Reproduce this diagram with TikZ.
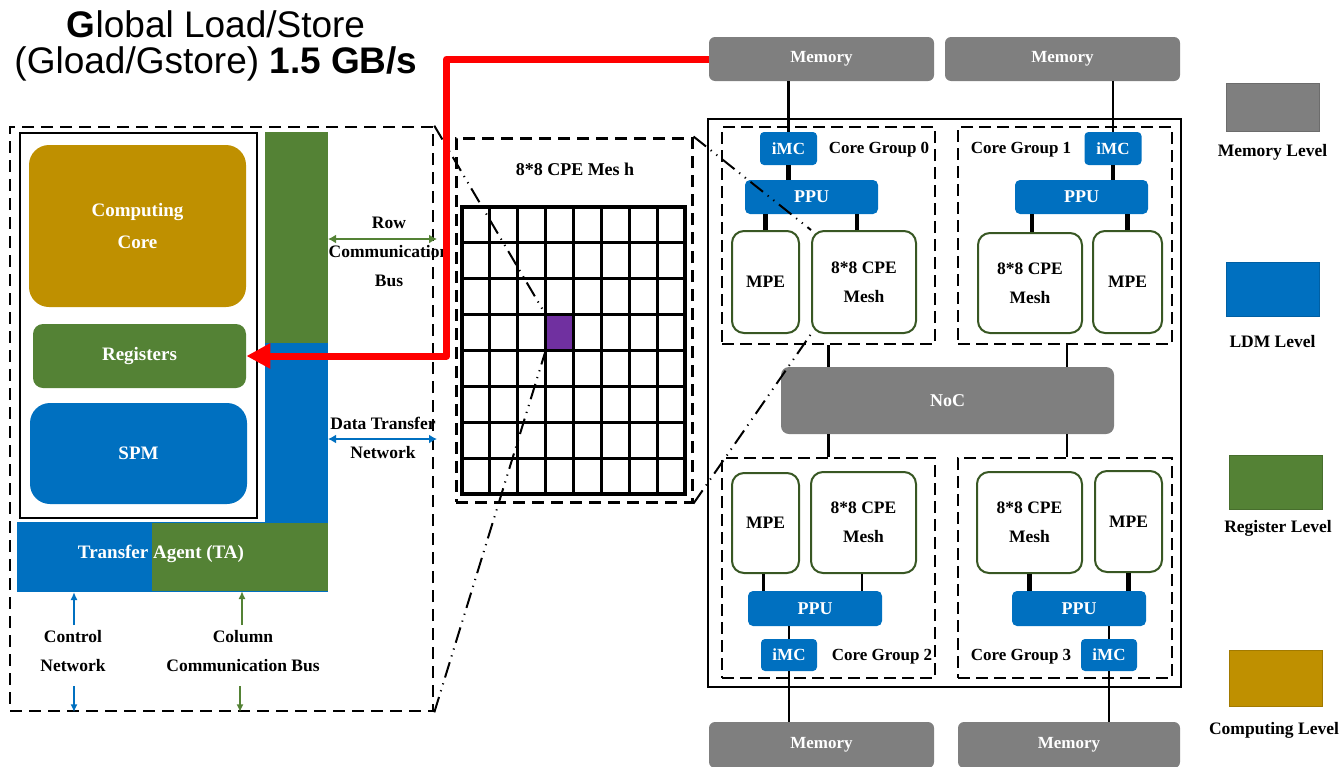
\documentclass[tikz,border=0pt]{standalone}
\usepackage{fontspec}
\setmainfont{Liberation Serif}
\newfontfamily\titlefont{Liberation Sans}
\usetikzlibrary{arrows.meta}

\definecolor{memgray}{HTML}{7F7F7F}
\definecolor{ldmblue}{HTML}{0070C0}
\definecolor{reggreen}{HTML}{548235}
\definecolor{compgold}{HTML}{BF9000}
\definecolor{cpepurple}{HTML}{7030A0}
\definecolor{peborder}{HTML}{385723}
\definecolor{gloadred}{HTML}{FF0000}

\tikzset{
  lbl/.style={font=\bfseries\fontsize{8.75}{14.5}\selectfont, inner sep=0pt, align=center},
  wlbl/.style={font=\bfseries\fontsize{9.5}{16}\selectfont, text=white, inner sep=0pt, align=center},
  solidfill/.style={inner sep=0pt, outer sep=0pt},
  panel/.style={draw, line width=1.3pt, dash pattern=on 6pt off 3.5pt, inner sep=0pt},
  cgbox/.style={draw, line width=1.2pt, dash pattern=on 6pt off 3pt, inner sep=0pt},
  membox/.style={fill=memgray, rounded corners=3pt, text=white, inner sep=0pt,
    font=\bfseries\fontsize{8.5}{10}\selectfont},
  imcbox/.style={fill=ldmblue, rounded corners=2pt, text=white, inner sep=0pt,
    minimum width=28.5pt, minimum height=16.5pt, font=\bfseries\fontsize{8.5}{10}\selectfont},
  ppubox/.style={fill=ldmblue, rounded corners=2.5pt, text=white, inner sep=0pt,
    minimum width=66.5pt, minimum height=17pt, font=\bfseries\fontsize{9}{10}\selectfont},
  pebox/.style={draw=peborder, line width=1pt, fill=white, rounded corners=6pt,
    inner sep=0pt, align=center, font=\bfseries\fontsize{8.75}{14.5}\selectfont},
  wire/.style={line width=1.4pt},
  thickwire/.style={line width=2.2pt},
  gridline/.style={line width=1.6pt, line cap=rect},
  zoomline/.style={line width=1pt, dash pattern=on 8pt off 3pt on 0.6pt off 3pt on 0.6pt off 3pt},
  busarrow/.style={line width=0.85pt, {Latex[length=4pt,width=4.5pt]}-{Latex[length=4pt,width=4.5pt]}},
  uparrow/.style={line width=0.8pt, -{Latex[length=4pt,width=3.5pt]}},
  keybox/.style={inner sep=0pt, minimum width=46.5pt, line width=0.4pt},
}

\begin{document}
\begin{tikzpicture}[x=0.5pt, y=-0.5pt]
\useasboundingbox (0,0) rectangle (1339,766);

% ---------- title ----------
\node[anchor=base, inner sep=0pt, font=\titlefont\fontsize{18.5}{22}\selectfont] (title1) at (216,37)
  {\textbf{G}lobal Load/Store};
\node[anchor=base, inner sep=0pt, font=\titlefont\fontsize{18.5}{22}\selectfont] (title2) at (216,73)
  {(Gload/Gstore) \textbf{1.5 GB/s}};

% ---------- single CPE ----------
\node[panel, minimum width=211.5pt, minimum height=292pt] (lp) at (221.5,419) {};
\node[draw, line width=1.25pt, inner sep=0pt, minimum width=118.5pt, minimum height=192.5pt] (cpeinner) at (138.5,325.5) {};
\node[fill=compgold, rounded corners=10pt, minimum width=108.5pt, minimum height=81pt, wlbl] (core) at (137.5,226) {Computing\\Core};
\node[fill=reggreen, rounded corners=5pt, minimum width=106.5pt, minimum height=32pt, wlbl] (regs) at (139.5,356) {Registers};
\node[fill=ldmblue, rounded corners=10pt, minimum width=108.5pt, minimum height=50.5pt, wlbl] (spm) at (138.5,453.5) {SPM};

\node[fill=reggreen, solidfill, minimum width=31.5pt, minimum height=105.5pt] (rowbar) at (296.5,237.5) {};
\node[fill=ldmblue, solidfill, minimum width=31.5pt, minimum height=90pt] (ldmbar) at (296.5,433) {};
\node[fill=ldmblue, solidfill, minimum width=155.5pt, minimum height=35pt] (tabase) at (172.5,557) {};
\node[fill=reggreen, solidfill, minimum width=88pt, minimum height=34pt] (tacol) at (240,557) {};
\node[wlbl] (ta) at (161,554) {Transfer Agent (TA)};

% row bus and data transfer network
\coordinate (rowend) at (437,239);
\draw[busarrow, reggreen] (rowbar.east |- rowend) -- (rowend);
\node[lbl] (rowlbl) at (389,252) {Row\\Communication\\Bus};
\coordinate (dtend) at (437,439);
\draw[busarrow, ldmblue] (ldmbar.east |- dtend) -- (dtend);
\node[lbl] (dtlbl) at (383,437.5) {Data Transfer\\Network};

% control network and column bus
\coordinate (ctlin) at (74,625);
\coordinate (ctlout) at (74,686);
\draw[uparrow, ldmblue] (ctlin) -- (ctlin |- tabase.south);
\draw[uparrow, ldmblue] (ctlout) -- (ctlout |- lp.south);
\node[lbl] (ctllbl) at (73,651) {Control\\Network};
\coordinate (colin) at (242,625);
\coordinate (colout) at (240,686);
\draw[uparrow, reggreen] (colin) -- (colin |- tacol.south);
\draw[uparrow, reggreen] (colout) -- (colout |- lp.south);
\node[lbl] (collbl) at (243,651) {Column\\Communication Bus};

% ---------- 8x8 CPE mesh ----------
\node[panel, line width=1.5pt, minimum width=118pt, minimum height=182pt] (mesh) at (574,320) {};
\node[lbl, font=\bfseries\fontsize{9}{11}\selectfont] (meshtitle) at (575,169) {8*8 CPE Mes h};
\node[fill=cpepurple, solidfill, minimum width=13.94pt, minimum height=17.94pt] (cpe) at (559.6,332.6) {};
\foreach \i in {0,...,8} {
  \draw[gridline] ({462+\i*27.875},207) -- ({462+\i*27.875},494);
  \draw[gridline] (462,{207+\i*35.875}) -- (685,{207+\i*35.875});
}

% ---------- processor ----------
\node[draw, line width=1pt, inner sep=0pt, minimum width=236.5pt, minimum height=284pt] (chip) at (944.5,403) {};
\node[membox, minimum width=112.5pt, minimum height=22pt] (mem0) at (821.5,59) {Memory};
\node[membox, minimum width=117.5pt, minimum height=22pt] (mem1) at (1062.5,59) {Memory};
\node[membox, minimum width=112.5pt, minimum height=23pt] (mem2) at (821.5,745) {Memory};
\node[membox, minimum width=111pt, minimum height=23pt] (mem3) at (1069,745) {Memory};

\node[cgbox, minimum width=106.5pt, minimum height=108.5pt] (cg0) at (828.5,235.5) {};
\node[cgbox, minimum width=107pt, minimum height=108.5pt] (cg1) at (1065,235.5) {};
\node[cgbox, minimum width=106.5pt, minimum height=110pt] (cg2) at (828.5,568) {};
\node[cgbox, minimum width=107pt, minimum height=110pt] (cg3) at (1065,568) {};

\node[fill=memgray, rounded corners=4pt, minimum width=166.5pt, minimum height=33.5pt, inner sep=0pt,
  text=white, font=\bfseries\fontsize{9}{10}\selectfont] (noc) at (947.5,400.5) {NoC};

% core group 0
\node[imcbox] (imc0) at (788.5,148.5) {iMC};
\node[lbl, font=\bfseries\fontsize{8.5}{10}\selectfont] (cg0lbl) at (879,150) {Core Group 0};
\node[ppubox] (ppu0) at (811.5,197) {PPU};
\node[pebox, minimum width=33.5pt, minimum height=51pt] (mpe0) at (765.5,282) {MPE};
\node[pebox, minimum width=52pt, minimum height=51pt] (cpe0) at (864,282) {8*8 CPE\\Mesh};
% core group 1
\node[imcbox] (imc1) at (1113,148.5) {iMC};
\node[lbl, font=\bfseries\fontsize{8.5}{10}\selectfont] (cg1lbl) at (1021,150) {Core Group 1};
\node[ppubox] (ppu1) at (1081.5,197) {PPU};
\node[pebox, minimum width=52pt, minimum height=50pt] (cpe1) at (1030,283) {8*8 CPE\\Mesh};
\node[pebox, minimum width=34.5pt, minimum height=51pt] (mpe1) at (1127.5,282) {MPE};
% core group 2
\node[pebox, minimum width=33.5pt, minimum height=50pt] (mpe2) at (765.5,523) {MPE};
\node[pebox, minimum width=52.5pt, minimum height=50.5pt] (cpe2) at (863.5,522.5) {8*8 CPE\\Mesh};
\node[ppubox, minimum width=67pt, minimum height=17.5pt] (ppu2) at (815,608.5) {PPU};
\node[imcbox, minimum width=28pt, minimum height=16pt] (imc2) at (789,655) {iMC};
\node[lbl, font=\bfseries\fontsize{8.5}{10}\selectfont] (cg2lbl) at (882,657) {Core Group 2};
% core group 3
\node[pebox, minimum width=52.5pt, minimum height=50.5pt] (cpe3) at (1029.5,522.5) {8*8 CPE\\Mesh};
\node[pebox, minimum width=33.5pt, minimum height=50.5pt] (mpe3) at (1128.5,521.5) {MPE};
\node[ppubox, minimum width=67pt, minimum height=17.5pt] (ppu3) at (1079,608.5) {PPU};
\node[imcbox, minimum width=28pt, minimum height=16pt] (imc3) at (1109,655) {iMC};
\node[lbl, font=\bfseries\fontsize{8.5}{10}\selectfont] (cg3lbl) at (1021,657) {Core Group 3};

% links inside the processor
\draw[wire] (mem0.south -| imc0.north) -- (imc0.north);
\draw[thickwire] (imc0.south) -- (imc0.south |- ppu0.north);
\draw[thickwire] (mpe0.north) -- (mpe0.north |- ppu0.south);
\draw[thickwire] ([xshift=-3.5pt]cpe0.north) -- ([xshift=-3.5pt]cpe0.north |- ppu0.south);
\draw[wire] (mem1.south -| imc1.north) -- (imc1.north);
\draw[thickwire] (imc1.south) -- (imc1.south |- ppu1.north);
\draw[thickwire] ([xshift=1pt]cpe1.north) -- ([xshift=1pt]cpe1.north |- ppu1.south);
\draw[thickwire] (mpe1.north) -- (mpe1.north |- ppu1.south);
\draw[wire] (cg0.south) -- (cg0.south |- noc.north);
\draw[wire] ([xshift=1pt]cg1.south) -- ([xshift=1pt]cg1.south |- noc.north);
\draw[wire] (noc.south -| cg2.north) -- (cg2.north);
\draw[wire] ([xshift=1pt]cg3.north |- noc.south) -- ([xshift=1pt]cg3.north);
\draw[wire] ([xshift=-1pt]mpe2.south) -- ([xshift=-1pt]mpe2.south |- ppu2.north);
\draw[wire] ([xshift=-0.75pt]cpe2.south) -- ([xshift=-0.75pt]cpe2.south |- ppu2.north);
\draw[wire] (ppu2.south -| imc2.north) -- (imc2.north);
\draw[wire] (imc2.south) -- (imc2.south |- mem2.north);
\draw[thickwire] (cpe3.south) -- (cpe3.south |- ppu3.north);
\draw[thickwire] (mpe3.south) -- (mpe3.south |- ppu3.north);
\draw[wire] (ppu3.south -| imc3.north) -- (imc3.north);
\draw[wire] (imc3.south) -- (imc3.south |- mem3.north);

% magnification lines
\draw[zoomline] (lp.north east) -- (cpe.north west);
\draw[zoomline] (lp.south east) -- (cpe.south west);
\draw[zoomline] (mesh.north east) -- (cpe0.north west);
\draw[zoomline] (mesh.south east) -- (cpe0.south west);

% global load/store path
\draw[line width=3.5pt, gloadred, line join=round, -{Triangle[length=12pt,width=12pt]}]
  (mem0.west) -- ++(-262,0) |- (regs.east);

% ---------- legend ----------
\node[keybox, fill=memgray, draw=memgray!85!black, minimum height=24pt] (keymem) at (1272.5,107) {};
\node[lbl] (keymemlbl) at (1272.5,152) {Memory Level};
\node[keybox, fill=ldmblue, draw=ldmblue!85!black, minimum height=27pt] (keyldm) at (1272.5,289) {};
\node[lbl] (keyldmlbl) at (1272.5,342) {LDM Level};
\node[keybox, fill=reggreen, draw=reggreen!85!black, minimum height=27pt] (keyreg) at (1275.5,482) {};
\node[lbl] (keyreglbl) at (1278,528) {Register Level};
\node[keybox, fill=compgold, draw=compgold!85!black, minimum height=28pt] (keycomp) at (1275.5,678) {};
\node[lbl] (keycomplbl) at (1274,730) {Computing Level};
\end{tikzpicture}
\end{document}
